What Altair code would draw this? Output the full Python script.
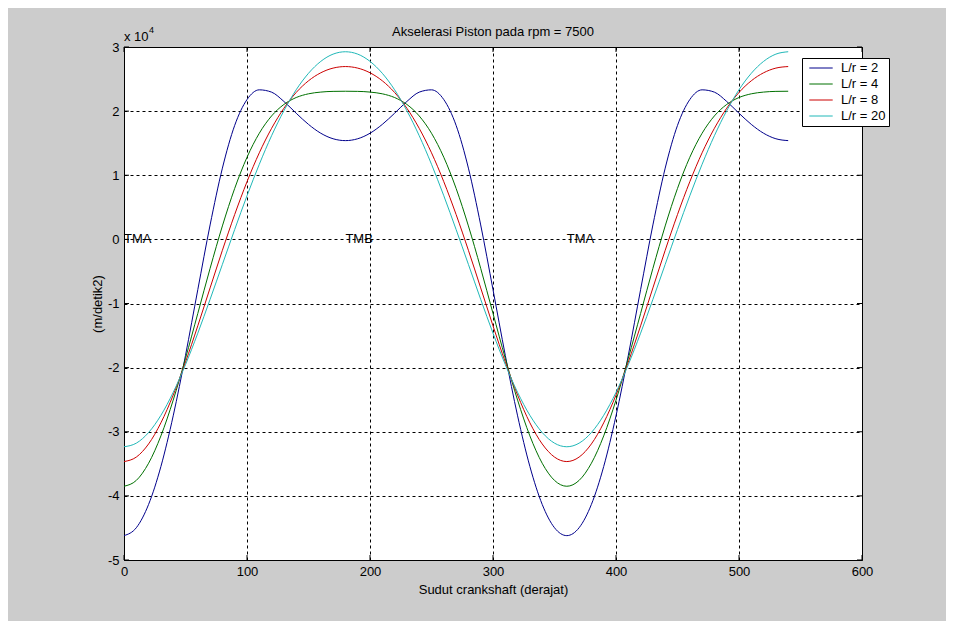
import altair as alt
import pandas as pd

# crank angle (degrees)
angle = list(range(0, 541, 10))

# piston acceleration, in units of 10^4 m/s^2
acc_lr2 = [-4.620, -4.497, -4.133, -3.542, -2.752, -1.809, -0.784, 0.225, 1.111, 1.778,
           2.180, 2.332, 2.296, 2.151, 1.967, 1.793, 1.655, 1.569, 1.540,
           1.569, 1.655, 1.793, 1.967, 2.151, 2.296, 2.332, 2.180, 1.778, 1.111,
           0.225, -0.784, -1.809, -2.752, -3.542, -4.133, -4.497,
           -4.620, -4.497, -4.133, -3.542, -2.752, -1.809, -0.784, 0.225, 1.111, 1.778,
           2.180, 2.332, 2.296, 2.151, 1.967, 1.793, 1.655, 1.569, 1.540]
acc_lr4 = [-3.850, -3.759, -3.491, -3.065, -2.507, -1.856, -1.155, -0.452, 0.210, 0.795,
           1.280, 1.655, 1.925, 2.104, 2.212, 2.270, 2.297, 2.308, 2.310,
           2.308, 2.297, 2.270, 2.212, 2.104, 1.925, 1.655, 1.280, 0.795, 0.210,
           -0.452, -1.155, -1.856, -2.507, -3.065, -3.491, -3.759,
           -3.850, -3.759, -3.491, -3.065, -2.507, -1.856, -1.155, -0.452, 0.210, 0.795,
           1.280, 1.655, 1.925, 2.104, 2.212, 2.270, 2.297, 2.308, 2.310]
acc_lr8 = [-3.465, -3.395, -3.190, -2.861, -2.428, -1.914, -1.348, -0.757, -0.170, 0.388,
           0.899, 1.350, 1.732, 2.045, 2.291, 2.473, 2.598, 2.671, 2.695,
           2.671, 2.598, 2.473, 2.291, 2.045, 1.732, 1.350, 0.899, 0.388, -0.170,
           -0.757, -1.348, -1.914, -2.428, -2.861, -3.190, -3.395,
           -3.465, -3.395, -3.190, -2.861, -2.428, -1.914, -1.348, -0.757, -0.170, 0.388,
           0.899, 1.350, 1.732, 2.045, 2.291, 2.473, 2.598, 2.671, 2.695]
acc_lr20 = [-3.234, -3.178, -3.012, -2.744, -2.386, -1.953, -1.463, -0.935, -0.390, 0.154,
            0.680, 1.171, 1.617, 2.006, 2.333, 2.590, 2.776, 2.889, 2.926,
            2.889, 2.776, 2.590, 2.333, 2.006, 1.617, 1.171, 0.680, 0.154, -0.390,
            -0.935, -1.463, -1.953, -2.386, -2.744, -3.012, -3.178,
            -3.234, -3.178, -3.012, -2.744, -2.386, -1.953, -1.463, -0.935, -0.390, 0.154,
            0.680, 1.171, 1.617, 2.006, 2.333, 2.590, 2.776, 2.889, 2.926]

series_names = ["L/r = 2", "L/r = 4", "L/r = 8", "L/r = 20"]
series_colors = ["#00008b", "#007000", "#cc0000", "#20b8b8"]

x_ticks = [0, 100, 200, 300, 400, 500, 600]
y_ticks = [-5, -4, -3, -2, -1, 0, 1, 2, 3]

ann_x = [0, 180, 360]
ann_y = [0, 0, 0]
ann_text = ["TMA", "TMB", "TMA"]

title_text = ["Akselerasi Piston pada rpm = 7500"]
x_title = "Sudut crankshaft (derajat)"
y_title = "(m/detik2)"
exp_base = ["x 10"]
exp_power = ["4"]

W, H = 738, 513
FONT = "Liberation Sans"

rows = []
for name, vals in zip(series_names, [acc_lr2, acc_lr4, acc_lr8, acc_lr20]):
    for a, v in zip(angle, vals):
        rows.append({"angle": a, "acc": v, "series": name})
df = pd.DataFrame(rows)

xscale = alt.Scale(domain=[0, 600], nice=False, zero=False)
yscale = alt.Scale(domain=[-5, 3], nice=False, zero=False)
xaxis = alt.Axis(values=x_ticks, title=x_title, labelExpr="toString(datum.value)")
yaxis = alt.Axis(values=y_ticks, title=y_title, labelExpr="toString(datum.value)")

lines = alt.Chart(df).mark_line(strokeWidth=1, interpolate="monotone").encode(
    x=alt.X("angle:Q", scale=xscale, axis=xaxis),
    y=alt.Y("acc:Q", scale=yscale, axis=yaxis),
    color=alt.Color("series:N", sort=series_names,
                    scale=alt.Scale(domain=series_names, range=series_colors),
                    legend=alt.Legend(title=None,
                                      labelExpr="datum.label + '\u00a0\u00a0\u00a0'")),
)

ydf = pd.DataFrame({"v": y_ticks})
xdf = pd.DataFrame({"v": x_ticks})
tick_l = alt.Chart(ydf).mark_rule(color="black", strokeWidth=1).encode(
    y=alt.Y("v:Q", scale=yscale, axis=yaxis), x=alt.value(0), x2=alt.value(5))
tick_r = alt.Chart(ydf).mark_rule(color="black", strokeWidth=1).encode(
    y=alt.Y("v:Q", scale=yscale, axis=yaxis), x=alt.value(W - 5), x2=alt.value(W))
tick_b = alt.Chart(xdf).mark_rule(color="black", strokeWidth=1).encode(
    x=alt.X("v:Q", scale=xscale, axis=xaxis), y=alt.value(H - 5), y2=alt.value(H))
tick_t = alt.Chart(xdf).mark_rule(color="black", strokeWidth=1).encode(
    x=alt.X("v:Q", scale=xscale, axis=xaxis), y=alt.value(0), y2=alt.value(5))

ann = alt.Chart(pd.DataFrame({"x": ann_x, "y": ann_y, "t": ann_text})).mark_text(
    align="left", baseline="middle", fontSize=13, font=FONT, color="black"
).encode(x=alt.X("x:Q", scale=xscale, axis=xaxis),
         y=alt.Y("y:Q", scale=yscale, axis=yaxis), text="t:N")

title = alt.Chart(pd.DataFrame({"t": title_text})).mark_text(
    align="center", baseline="middle", fontSize=13, font=FONT, color="black"
).encode(text="t:N", x=alt.value(W / 2), y=alt.value(-15.5))

exp1 = alt.Chart(pd.DataFrame({"t": exp_base})).mark_text(
    align="left", baseline="middle", fontSize=13, font=FONT, color="black"
).encode(text="t:N", x=alt.value(0), y=alt.value(-10))
exp2 = alt.Chart(pd.DataFrame({"t": exp_power})).mark_text(
    align="left", baseline="middle", fontSize=9, font=FONT, color="black"
).encode(text="t:N", x=alt.value(25), y=alt.value(-17.5))

chart = alt.layer(lines, tick_l, tick_r, tick_b, tick_t, ann, title, exp1, exp2).properties(
    width=W, height=H,
    autosize=alt.AutoSizeParams(type="none"),
    padding={"left": 116, "top": 39, "right": 84, "bottom": 61},
    background="#cccccc",
).configure_view(
    fill="white", stroke="black", strokeWidth=1
).configure_axis(
    labelFont=FONT, labelFontSize=13, labelColor="black", labelFlush=False,
    titleFont=FONT, titleFontSize=13, titleFontWeight="normal", titleColor="black",
    domain=False, ticks=False,
    grid=True, gridColor="black", gridDash=[3, 3], gridOpacity=1, gridWidth=1,
).configure_axisX(
    labelPadding=5, titlePadding=5,
).configure_axisY(
    labelPadding=5, titlePadding=3,
).configure_legend(
    orient="none", legendX=678, legendY=11,
    fillColor="white", strokeColor="black", padding=3,
    symbolType="M-1.8,0L1.8,0", symbolStrokeWidth=1, symbolSize=169,
    symbolOffset=9, labelOffset=13,
    labelFont=FONT, labelFontSize=13, labelColor="black", rowPadding=2,
)

chart.save("out.html", embed_options={"renderer": "svg", "actions": False})
